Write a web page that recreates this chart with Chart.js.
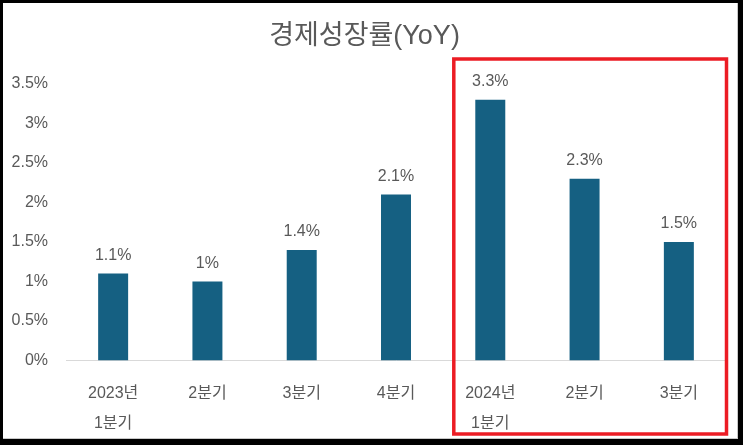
<!DOCTYPE html>
<html>
<head>
<meta charset="utf-8">
<script src="https://cdn.jsdelivr.net/npm/chart.js"></script>
<style>
html,body{margin:0;padding:0;background:#000;width:743px;height:445px;overflow:hidden;}
#frame{position:absolute;left:3px;top:3px;width:734px;height:435px;background:#fff;border-right:1px solid #c8c8c8;border-bottom:1px solid #c8c8c8;}
canvas{position:absolute;left:0;top:0;}
</style>
</head>
<body>
<div id="frame"><canvas id="c" width="734" height="435"></canvas></div>
<script>
const titleText = '경제성장률(YoY)';
const categories = [['2023년','1분기'],'2분기','3분기','4분기',['2024년','1분기'],'2분기','3분기'];
const growth = [1.1, 1.0, 1.4, 2.1, 3.3, 2.3, 1.5];
const yTicks = [0, 0.5, 1, 1.5, 2, 2.5, 3, 3.5];
const yTickLabels = ['0%','0.5%','1%','1.5%','2%','2.5%','3%','3.5%'];
const highlightStart = 4, highlightEnd = 6;

const TEXT = '#595959';
const FONT = "'Liberation Sans', 'Noto Sans CJK KR', sans-serif";

const dataLabelPlugin = {
  id: 'dataLabels',
  afterDatasetsDraw(chart) {
    const ctx = chart.ctx;
    const meta = chart.getDatasetMeta(0);
    ctx.save();
    ctx.font = '16px ' + FONT;
    ctx.fillStyle = TEXT;
    ctx.textAlign = 'center';
    ctx.textBaseline = 'middle';
    meta.data.forEach((bar, i) => {
      ctx.fillText(growth[i] + '%', bar.x, bar.y - 18);
    });
    ctx.restore();
  }
};

const highlightPlugin = {
  id: 'highlight',
  afterDraw(chart) {
    const xs = chart.scales.x;
    const w = xs.getPixelForValue(1) - xs.getPixelForValue(0);
    const left = xs.getPixelForValue(highlightStart) - 0.387 * w;
    const right = xs.getPixelForValue(highlightEnd) + 0.5 * w + 0.5;
    const top = chart.chartArea.top - 25;
    const bottom = chart.height - 4;
    const ctx = chart.ctx;
    ctx.save();
    ctx.strokeStyle = '#ec1c24';
    ctx.lineWidth = 3.5;
    ctx.strokeRect(left, top, right - left, bottom - top);
    ctx.restore();
  }
};

new Chart(document.getElementById('c'), {
  type: 'bar',
  data: {
    labels: categories,
    datasets: [{
      data: growth,
      backgroundColor: '#156082',
      categoryPercentage: 1,
      barPercentage: 0.318
    }]
  },
  options: {
    responsive: false,
    animation: false,
    layout: { padding: { left: 0, right: 11, top: 0, bottom: 0 } },
    plugins: {
      legend: { display: false },
      tooltip: { enabled: false },
      title: {
        display: true,
        text: titleText,
        color: TEXT,
        font: { family: FONT, size: 27, weight: 'normal', lineHeight: 1.2 },
        padding: { top: 17, bottom: 31.6 }
      }
    },
    scales: {
      x: {
        grid: { display: false, drawTicks: false },
        border: { display: true, color: '#d9d9d9', width: 1 },
        ticks: { color: TEXT, font: { family: FONT, size: 16, lineHeight: 1.875 }, padding: 18, maxRotation: 0, autoSkip: false },
        afterFit(s) { s.height = 77.5; }
      },
      y: {
        min: 0,
        max: 3.5,
        afterBuildTicks(s) { s.ticks = yTicks.map(v => ({ value: v })); },
        grid: { display: false, drawTicks: false },
        border: { display: false },
        ticks: { color: TEXT, font: { family: FONT, size: 16 }, padding: 18, callback: (v, i) => yTickLabels[i] },
        afterFit(s) { s.width = 63; }
      }
    }
  },
  plugins: [dataLabelPlugin, highlightPlugin]
});
</script>
</body>
</html>
